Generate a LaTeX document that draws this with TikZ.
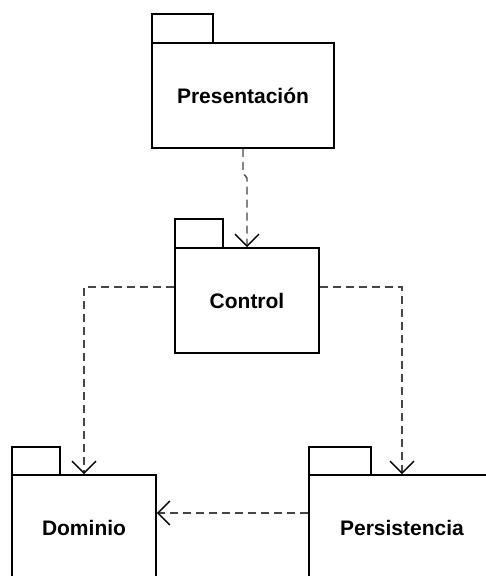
\documentclass[tikz,border=0pt]{standalone}
\usepackage{fontspec}
\setmainfont{Liberation Sans}
\usetikzlibrary{arrows.meta,calc}
\definecolor{depline}{RGB}{70,70,70}
\begin{document}
\begin{tikzpicture}[x=1pt,y=-1pt,
  pkgbody/.style={draw=black,line width=1.9pt,fill=white,inner sep=0pt,
    minimum height=105pt,font=\fontsize{21}{25}\selectfont\bfseries},
  pkgtab/.style={draw=black,line width=1.9pt,fill=white,inner sep=0pt,minimum height=29pt},
  dep/.style={draw=depline,line width=1.4pt,dash pattern=on 8pt off 5pt,
    -{Straight Barb[length=12pt,width=24pt,line width=1.3pt,black]}}]
\useasboundingbox (0,0) rectangle (486,576);
\clip (0,0) rectangle (486,576);
\fill[white] (0,0) rectangle (486,576);

% packages: tab first, then body
\node[pkgtab,minimum width=61pt] (Ptab) at (182.5,28.5) {};
\node[pkgbody,minimum width=182pt] (P) at (243,95.5) {Presentación};

\node[pkgtab,minimum width=48pt] (Ctab) at (199,233.5) {};
\node[pkgbody,minimum width=144pt] (C) at (247,300.5) {Control};

\node[pkgtab,minimum width=48pt] (Dtab) at (36,461.5) {};
\node[pkgbody,minimum width=144pt] (D) at (84,527.5) {Dominio};

\node[pkgtab,minimum width=62pt] (Stab) at (340,461.5) {};
\node[pkgbody,minimum width=186pt] (S) at (402,527.5) {Persistencia};

% dependencies
\coordinate (jogA) at (243,173);
\coordinate (jogB) at (247,178);
\draw[dep] (P.south) -- (jogA) -- (jogB) -- (C.north);
\draw[dep] ([yshift=13.5pt]C.west) -| (D.north);
\draw[dep] ([yshift=13.5pt]C.east) -| (S.north);
\draw[dep] ([yshift=14.5pt]S.west) -- ([yshift=14.5pt]D.east);
\end{tikzpicture}
\end{document}
